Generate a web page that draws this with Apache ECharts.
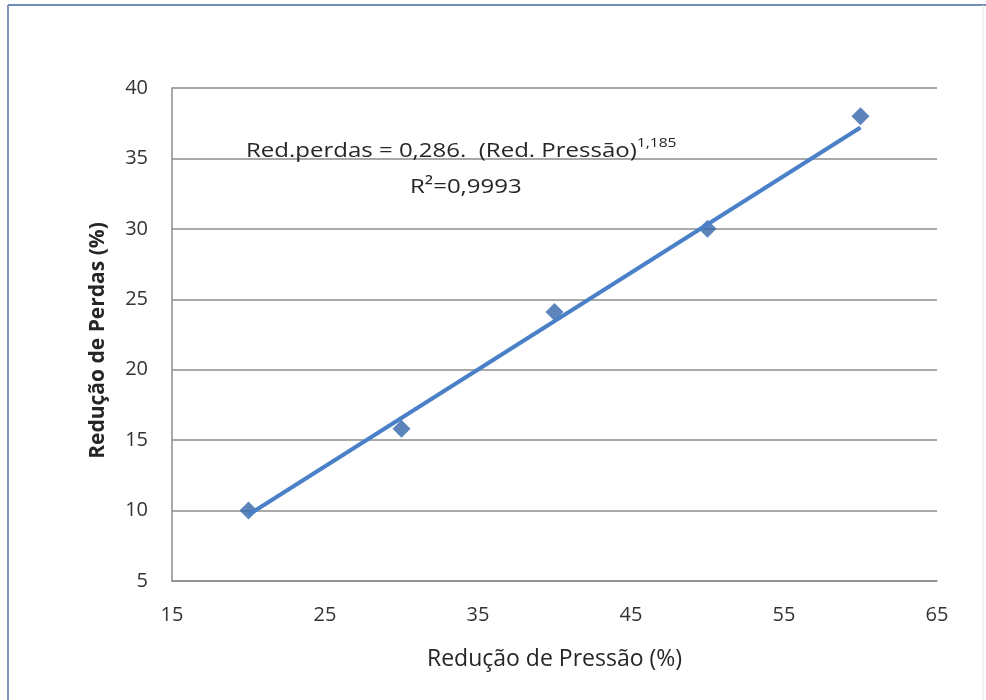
<!DOCTYPE html>
<html><head><meta charset="utf-8">
<script src="https://cdn.jsdelivr.net/npm/echarts@6/dist/echarts.min.js"></script>
<style>html,body{margin:0;padding:0;background:#fff}#c{width:986px;height:700px}</style>
</head><body><div id="c"></div>
<script>
const pressao = [20, 30, 40, 50, 60];
const perdas = [10, 15.8, 24.1, 30, 38];
const trendX = [20, 60];
const trendY = [9.7, 37.2];
const xTitle = 'Redução de Pressão (%)';
const yTitle = 'Redução de Perdas (%)';
const eqMain = 'Red.perdas = 0,286.  (Red. Pressão)';
const eqExp = '1,185';
const r2Text = 'R²=0,9993';

const font = 'Open Sans';
const chart = echarts.init(document.getElementById('c'), null, {renderer: 'canvas'});
chart.setOption({
  backgroundColor: '#ffffff',
  animation: false,
  grid: {left: 172, right: 49, top: 88, bottom: 119},
  xAxis: {
    type: 'value', min: 15, max: 65, interval: 10,
    name: xTitle, nameLocation: 'middle', nameGap: 67,
    nameTextStyle: {fontFamily: font, fontSize: 23, color: '#262626'},
    axisLine: {show: true, lineStyle: {color: '#8c8c8c', width: 1.5}},
    axisTick: {show: false},
    splitLine: {show: false},
    axisLabel: {fontFamily: font, fontSize: 20, color: '#333333', margin: 24}
  },
  yAxis: {
    type: 'value', min: 5, max: 40, interval: 5,
    name: yTitle, nameLocation: 'middle', nameGap: 63,
    nameTextStyle: {fontFamily: font, fontSize: 21, fontWeight: 'bold', color: '#262626', padding: [0, 12, 0, 0]},
    axisLine: {show: true, lineStyle: {color: '#8c8c8c', width: 1.5}},
    axisTick: {show: false},
    splitLine: {show: true, lineStyle: {color: '#8c8c8c', width: 1.5}},
    axisLabel: {fontFamily: font, fontSize: 20, color: '#333333', margin: 24}
  },
  series: [
    {
      type: 'scatter', symbol: 'diamond', symbolSize: 18,
      itemStyle: {color: '#3466aa'},
      data: pressao.map((x, i) => [x, perdas[i]]), z: 2
    },
    {
      type: 'line', showSymbol: false, symbol: 'none',
      lineStyle: {color: '#4a80c8', width: 4},
      data: trendX.map((x, i) => [x, trendY[i]]), z: 3
    }
  ],
  graphic: [
    {type: 'line', shape: {x1: 8, y1: 5, x2: 8, y2: 700}, style: {stroke: '#7f97b8', lineWidth: 2}},
    {type: 'line', shape: {x1: 8, y1: 5, x2: 986, y2: 5}, style: {stroke: '#6f8fb8', lineWidth: 2}},
    {type: 'line', shape: {x1: 983, y1: 5, x2: 983, y2: 700}, style: {stroke: '#e4e4e4', lineWidth: 1}},
    {
      type: 'text', x: 246, y: 137, scaleX: 1.2, z: 10,
      style: {
        text: '{m|' + eqMain + '}{s|' + eqExp + '}',
        rich: {
          m: {fontFamily: font, fontSize: 20, fill: '#262626', lineHeight: 28},
          s: {fontFamily: font, fontSize: 13, fill: '#262626', verticalAlign: 'top', lineHeight: 28, padding: [0, 0, 12, 0]}
        }
      }
    },
    {
      type: 'text', x: 410, y: 177, scaleX: 1.2, z: 10,
      style: {text: r2Text, fontFamily: font, fontSize: 20, fill: '#262626'}
    }
  ]
});
</script></body></html>
